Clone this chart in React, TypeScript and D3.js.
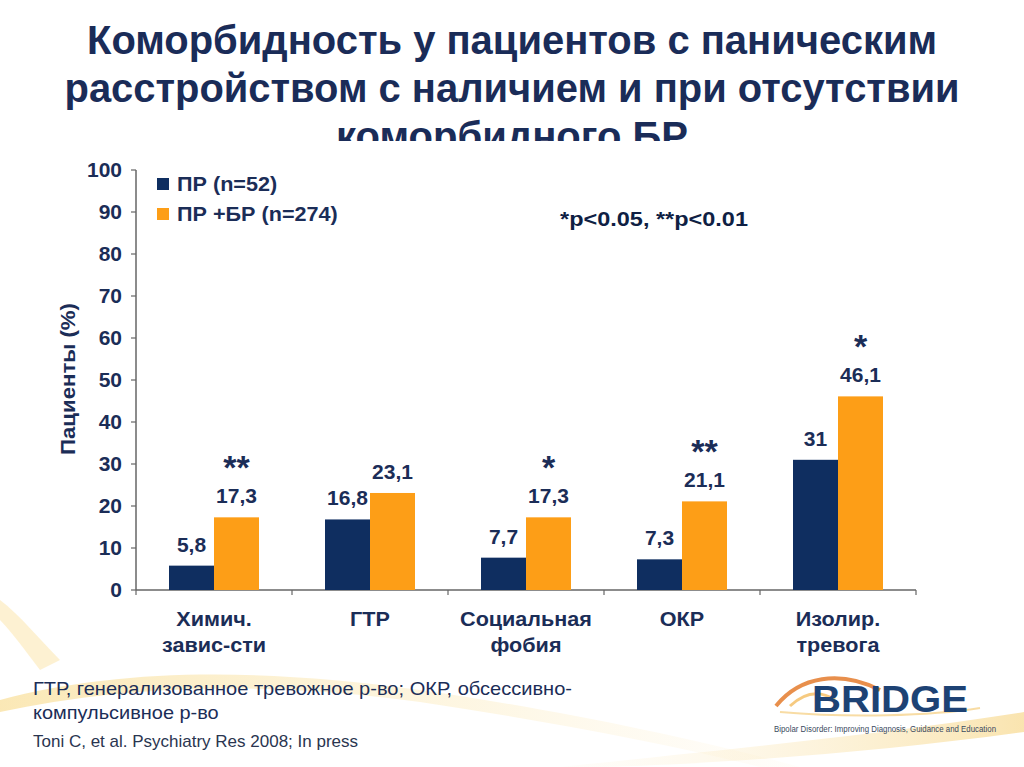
import React from "react";
import * as d3 from "d3";

const categories = ["Химич.\nзавис-сти", "ГТР", "Социальная\nфобия", "ОКР", "Изолир.\nтревога"];
const seriesNames = ["ПР (n=52)", "ПР +БР (n=274)"];
const prValues = [5.8, 16.8, 7.7, 7.3, 31];
const prBrValues = [17.3, 23.1, 17.3, 21.1, 46.1];
const significance = ["**", "", "*", "**", "*"];
const yTicks = [0, 10, 20, 30, 40, 50, 60, 70, 80, 90, 100];
const titleLines = [
  "Коморбидность у пациентов с паническим",
  "расстройством с наличием и при отсутствии",
  "коморбидного БР",
];
const footnoteLines = [
  "ГТР, генерализованное тревожное р-во; ОКР, обсессивно-",
  "компульсивное р-во",
];
const citation = "Toni C, et al. Psychiatry Res 2008; In press";
const pNote = "*p<0.05, **p<0.01";

const NAVY = "#0f2e60";
const ORANGE = "#fd9e17";
const TEXT = "#1b2d57";

type TProps = {
  x: number; y: number; sx?: number; anchor?: string; size: number; weight?: string; fill?: string; dy?: string;
  children: React.ReactNode;
};
function T({ x, y, sx = 1, anchor = "start", size, weight = "bold", fill = TEXT, dy, children }: TProps) {
  return (
    <text transform={`translate(${x},${y}) scale(${sx},1)`} textAnchor={anchor} fontSize={size}
      fontWeight={weight} fill={fill} dy={dy}>{children}</text>
  );
}

export default function App() {
  const x0 = 136, x1 = 916, y0 = 590, y1 = 170;
  const x = d3.scaleBand<string>().domain(categories).range([x0, x1]).paddingInner(0).paddingOuter(0);
  const y = d3.scaleLinear().domain([0, 100]).range([y0, y1]);
  const sub = d3.scaleBand<number>().domain([0, 1]).range([0, 90]);
  const bw = sub.bandwidth();
  const series = [prValues, prBrValues];
  const colors = [NAVY, ORANGE];
  const fmt = (v: number) => String(v).replace(".", ",");
  const titleWidths = [850, 895, 352];

  return (
    <svg width={1024} height={767} style={{ position: "absolute", left: 0, top: 0, background: "#fff" }}
      fontFamily="'Liberation Sans', Arial, sans-serif">
      <defs>
        <clipPath id="titleClip"><rect x={0} y={0} width={1024} height={141} /></clipPath>
        <linearGradient id="sw" x1="0" x2="1" y1="0" y2="0">
          <stop offset="0" stopColor="#f7d57a" stopOpacity="0.55" />
          <stop offset="0.6" stopColor="#fbe7b0" stopOpacity="0.35" />
          <stop offset="1" stopColor="#fdf1d4" stopOpacity="0.1" />
        </linearGradient>
        <linearGradient id="sw2" x1="0" x2="1" y1="0" y2="0">
          <stop offset="0" stopColor="#fdf1d4" stopOpacity="0.1" />
          <stop offset="1" stopColor="#f6d27a" stopOpacity="0.6" />
        </linearGradient>
      </defs>
      {/* background swooshes */}
      <path d="M0,700 C120,668 260,668 420,690 C560,710 700,740 800,767 L760,767 C660,742 540,720 420,702 C260,680 120,686 0,712 Z" fill="url(#sw)" />
      <path d="M0,600 C20,615 40,640 60,660 L40,670 C25,650 10,630 0,620 Z" fill="#fbe3a6" opacity="0.5" />
      <path d="M560,767 C700,752 880,735 1024,712 L1024,732 C880,752 720,764 600,767 Z" fill="url(#sw2)" />

      {/* title */}
      <g clipPath="url(#titleClip)">
        {titleLines.map((t, i) => (
          <text key={i} x={512} y={54 + i * 48} textAnchor="middle" fontSize={40} fontWeight="bold"
            fill="#1a2c58" fontFamily="'Liberation Sans Narrow', 'Arial Narrow', 'Liberation Sans', sans-serif"
            textLength={titleWidths[i]} lengthAdjust="spacingAndGlyphs">{t}</text>
        ))}
      </g>

      {/* y axis */}
      <line x1={x0} x2={x0} y1={y1} y2={y0} stroke="#666" strokeWidth={1.5} />
      {yTicks.map((t) => (
        <g key={t}>
          <line x1={x0 - 5} x2={x0} y1={y(t)} y2={y(t)} stroke="#666" strokeWidth={1.2} />
          <T x={122} y={y(t)} dy="0.36em" anchor="end" size={20} sx={1.05}>{t}</T>
        </g>
      ))}
      <text transform={`translate(68,${379}) rotate(-90)`} textAnchor="middle" dy="0.35em" fontSize={20}
        fontWeight="bold" fill={TEXT} textLength={152} lengthAdjust="spacingAndGlyphs">Пациенты (%)</text>

      {/* x axis */}
      <line x1={x0} x2={x1} y1={y0} y2={y0} stroke="#666" strokeWidth={1.5} />
      {[...categories.map((c) => x(c)!), x1].map((px, i) => (
        <line key={i} x1={px} x2={px} y1={y0} y2={y0 + 5} stroke="#666" strokeWidth={1.2} />
      ))}
      {categories.map((c) => {
        const lines = c.split("\n");
        const cx = x(c)! + x.bandwidth() / 2;
        return (
          <g key={c}>
            {lines.map((l, i) => (
              <T key={i} x={cx} y={626 + i * 26} anchor="middle" size={20} sx={1.08}>{l}</T>
            ))}
          </g>
        );
      })}

      {/* bars */}
      {categories.map((c, ci) => {
        const start = x(c)! + (x.bandwidth() - 90) / 2;
        return (
          <g key={c}>
            {series.map((vals, si) => {
              const v = vals[ci];
              const bx = start + sub(si)!;
              return (
                <g key={si}>
                  <rect x={bx} y={y(v)} width={bw} height={y0 - y(v)} fill={colors[si]} />
                  <T x={bx + bw / 2} y={y(v) - 14} anchor="middle" size={21}>{fmt(v)}</T>
                </g>
              );
            })}
            {significance[ci] && (
              <T x={start + sub(1)! + bw / 2} y={y(prBrValues[ci]) - 38} anchor="middle" size={34}>{significance[ci]}</T>
            )}
          </g>
        );
      })}

      {/* legend */}
      {seriesNames.map((n, i) => (
        <g key={n}>
          <rect x={157} y={178 + i * 30} width={12} height={12} fill={colors[i]} />
          <T x={177} y={183 + i * 30} dy="0.36em" size={21} sx={1.03}>{n}</T>
        </g>
      ))}
      <text x={654} y={218} dy="0.36em" textAnchor="middle" fontSize={21} fontWeight="bold" fill="#0f1f44"
        textLength={188} lengthAdjust="spacingAndGlyphs">{pNote}</text>

      {/* footnote */}
      <text x={33} y={695} fontSize={19} fill={TEXT} textLength={539} lengthAdjust="spacingAndGlyphs">{footnoteLines[0]}</text>
      <T x={33} y={719} size={19} weight="normal" sx={1.05}>{footnoteLines[1]}</T>
      <T x={33} y={747} size={17} weight="normal" fill="#2a3550">{citation}</T>

      {/* BRIDGE logo */}
      <path d="M776,706 C800,676 840,670 880,690" fill="none" stroke="#e47b2d" strokeWidth={4} opacity={0.85} />
      <path d="M790,706 C805,692 820,690 835,700" fill="none" stroke="#f2b34a" strokeWidth={3} opacity={0.7} />
      <path d="M780,712 C850,718 930,716 980,708" fill="none" stroke="#f3c568" strokeWidth={2} opacity={0.6} />
      <text x={812} y={712} fontSize={36} fontWeight="bold" fill="#1d4274" textLength={156} lengthAdjust="spacingAndGlyphs">BRIDGE</text>
      <text x={774} y={732} fontSize={8.5} fill="#3a4a60" textLength={222} lengthAdjust="spacingAndGlyphs">Bipolar Disorder: Improving Diagnosis, Guidance and Education</text>
    </svg>
  );
}
